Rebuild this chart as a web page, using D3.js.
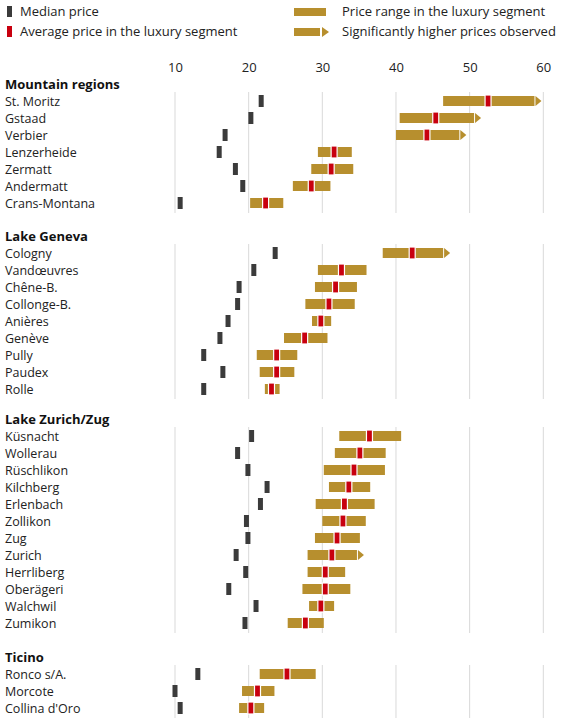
<!DOCTYPE html>
<html><head><meta charset="utf-8">
<script src="https://cdn.jsdelivr.net/npm/d3@7"></script>
<style>body{margin:0;background:#fff;font-family:"Open Sans",sans-serif;}</style>
</head><body><svg id="c" width="580" height="723"></svg>
<script>
// values in thousand CHF per m²
const groups = ["Mountain regions", "Lake Geneva", "Lake Zurich/Zug", "Ticino"];
const towns = [
  ["St. Moritz","Gstaad","Verbier","Lenzerheide","Zermatt","Andermatt","Crans-Montana"],
  ["Cologny","Vandœuvres","Chêne-B.","Collonge-B.","Anières","Genève","Pully","Paudex","Rolle"],
  ["Küsnacht","Wollerau","Rüschlikon","Kilchberg","Erlenbach","Zollikon","Zug","Zurich","Herrliberg","Oberägeri","Walchwil","Zumikon"],
  ["Ronco s/A.","Morcote","Collina d'Oro"]
];
const median = [
  [21.7,20.3,16.8,16.0,18.2,19.2,10.7],
  [23.6,20.7,18.7,18.5,17.2,16.1,13.9,16.5,13.9],
  [20.4,18.5,19.9,22.5,21.6,19.7,19.9,18.3,19.6,17.3,21.0,19.5],
  [13.1,10.0,10.7]
];
const rangeLow = [
  [46.4,40.5,40.0,29.4,28.5,26.0,20.2],
  [38.2,29.4,29.0,27.7,28.6,24.8,21.1,21.5,22.2],
  [32.3,31.7,30.2,30.9,29.1,30.0,29.0,28.0,28.0,27.3,28.2,25.3],
  [21.5,19.1,18.7]
];
const rangeHigh = [
  [58.8,50.6,48.6,34.0,34.2,31.1,24.7],
  [46.4,36.0,34.7,34.4,31.2,30.7,26.6,26.2,24.2],
  [40.7,38.6,38.5,36.5,37.1,35.9,35.1,34.7,33.1,33.8,31.6,30.2],
  [29.1,23.5,22.1]
];
const average = [
  [52.5,45.4,44.2,31.6,31.2,28.5,22.3],
  [42.2,32.6,31.8,30.9,29.8,27.6,23.8,23.8,23.1],
  [36.4,35.1,34.3,33.6,33.0,32.8,32.0,31.3,30.4,30.4,29.8,27.7],
  [25.2,21.2,20.3]
];
const higher = [
  ["St. Moritz","Gstaad","Verbier","Cologny","Zurich"]
];
const ticks = [10,20,30,40,50,60];

const gold = "#b78f2e", red = "#c8000f", dark = "#3b3b3b";
const svg = d3.select("#c");
const x = d3.scaleLinear().domain([10,60]).range([175,543.3]);
const rowH = 17;
const groupTop = [84, 236, 419, 657];

// legend
const lg = svg.append("g").style("font-size","13px").attr("fill","#222");
lg.append("rect").attr("x",7).attr("y",6).attr("width",5).attr("height",11).attr("fill",dark);
lg.append("text").attr("x",20).attr("y",16).text("Median price");
lg.append("rect").attr("x",7).attr("y",26).attr("width",5).attr("height",11).attr("fill",red);
lg.append("text").attr("x",20).attr("y",36).text("Average price in the luxury segment");
lg.append("rect").attr("x",294).attr("y",8).attr("width",32).attr("height",8).attr("fill",gold);
lg.append("text").attr("x",342).attr("y",16).text("Price range in the luxury segment");
lg.append("rect").attr("x",294).attr("y",28).attr("width",26).attr("height",8).attr("fill",gold);
lg.append("path").attr("d","M322,27 L329,32 L322,37 Z").attr("fill",gold);
lg.append("text").attr("x",342).attr("y",36).text("Significantly higher prices observed");

// top axis
svg.append("g").attr("transform","translate(0,72)")
  .call(d3.axisTop(x).tickValues(ticks).tickSize(0).tickPadding(0))
  .call(g => g.select(".domain").remove())
  .call(g => g.selectAll("text").style("font-size","13px").attr("fill","#222").style("font-family","'Open Sans',sans-serif"));

groups.forEach((gname, gi) => {
  const top = groupTop[gi];
  const n = towns[gi].length;
  const g = svg.append("g");
  g.append("text").attr("x",5).attr("y",top+5).text(gname)
    .style("font-weight","bold").style("font-size","13px").attr("fill","#111");
  g.selectAll(".grid").data(ticks).join("line")
    .attr("x1",d=>x(d)).attr("x2",d=>x(d))
    .attr("y1",top+8).attr("y2",top+rowH*n+10)
    .attr("stroke","#d9d9d9").attr("stroke-width",1);
  towns[gi].forEach((t, i) => {
    const y = top + rowH*(i+1);
    g.append("text").attr("x",5).attr("y",y+4.5).text(t)
      .style("font-size","12.5px").attr("fill","#222");
    g.append("rect").attr("x",x(rangeLow[gi][i])).attr("y",y-5)
      .attr("width",x(rangeHigh[gi][i])-x(rangeLow[gi][i])).attr("height",10).attr("fill",gold);
    if (higher[0].includes(t)) {
      const xe = x(rangeHigh[gi][i]) + 1;
      g.append("path").attr("d",`M${xe},${y-5} L${xe+6},${y} L${xe},${y+5} Z`).attr("fill",gold);
    }
    g.append("rect").attr("x",x(average[gi][i])-3).attr("y",y-6).attr("width",6).attr("height",12)
      .attr("fill",red).attr("stroke","#fff").attr("stroke-width",1.2);
    g.append("rect").attr("x",x(median[gi][i])-2.5).attr("y",y-6).attr("width",5).attr("height",12)
      .attr("fill",dark);
  });
});
</script></body></html>
